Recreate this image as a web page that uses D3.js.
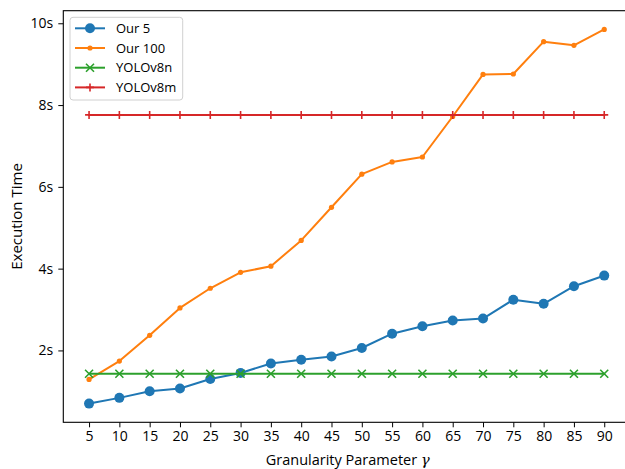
<!DOCTYPE html>
<html>
<head>
<meta charset="utf-8">
<script src="https://cdn.jsdelivr.net/npm/d3@7"></script>
<style>
  html, body { margin: 0; padding: 0; background: #fff; }
  svg { display: block; }
  text { font-family: "Open Sans", "DejaVu Sans", sans-serif; fill: #000; }
</style>
</head>
<body>
<svg id="chart" width="625" height="469"></svg>
<script>
// Granularity parameter values (x axis)
const gammas = [5, 10, 15, 20, 25, 30, 35, 40, 45, 50, 55, 60, 65, 70, 75, 80, 85, 90];

// Execution times in seconds
const our5 = [0.70, 0.84, 1.00, 1.07, 1.30, 1.45, 1.68, 1.77, 1.85, 2.06, 2.41, 2.59, 2.73, 2.78, 3.24, 3.14, 3.57, 3.83];
const our100 = [1.29, 1.74, 2.37, 3.04, 3.52, 3.91, 4.06, 4.69, 5.50, 6.31, 6.61, 6.73, 7.72, 8.75, 8.76, 9.55, 9.46, 9.85];
const yolov8n = [1.43, 1.43, 1.43, 1.43, 1.43, 1.43, 1.43, 1.43, 1.43, 1.43, 1.43, 1.43, 1.43, 1.43, 1.43, 1.43, 1.43, 1.43];
const yolov8m = [7.76, 7.76, 7.76, 7.76, 7.76, 7.76, 7.76, 7.76, 7.76, 7.76, 7.76, 7.76, 7.76, 7.76, 7.76, 7.76, 7.76, 7.76];

const seriesNames = ["Our 5", "Our 100", "YOLOv8n", "YOLOv8m"];
const yTicks = [2, 4, 6, 8, 10];
const yTickLabels = ["2s", "4s", "6s", "8s", "10s"];

const series = [
  { name: seriesNames[0], values: our5, color: "#1f77b4", marker: "circle", size: 5 },
  { name: seriesNames[1], values: our100, color: "#ff7f0e", marker: "dot", size: 2.6 },
  { name: seriesNames[2], values: yolov8n, color: "#2ca02c", marker: "x", size: 4 },
  { name: seriesNames[3], values: yolov8m, color: "#d62728", marker: "plus", size: 4 }
];

const FONT = "'Open Sans', 'DejaVu Sans', sans-serif";
const svg = d3.select("#chart");
const plot = { left: 63.3, right: 630, top: 10.7, bottom: 422.3 };

// Axis limits with a 5% margin around the data
const xMin = d3.min(gammas), xMax = d3.max(gammas);
const xPad = (xMax - xMin) * 0.05;
const allY = series.flatMap(s => s.values);
const yMin = d3.min(allY), yMax = d3.max(allY);
const yPad = (yMax - yMin) * 0.05;

const x = d3.scaleLinear().domain([xMin - xPad, xMax + xPad]).range([plot.left, plot.right]);
const y = d3.scaleLinear().domain([yMin - yPad, yMax + yPad]).range([plot.bottom, plot.top]);

// Axes
const xAxis = d3.axisBottom(x).tickValues(gammas).tickFormat(d3.format("d")).tickSize(5).tickPadding(4);
const yAxis = d3.axisLeft(y).tickValues(yTicks).tickFormat((d, i) => yTickLabels[i]).tickSize(5).tickPadding(5);

const gx = svg.append("g").attr("transform", `translate(0,${plot.bottom})`).call(xAxis);
const gy = svg.append("g").attr("transform", `translate(${plot.left},0)`).call(yAxis);
[gx, gy].forEach(g => {
  g.select(".domain").remove();
  g.selectAll(".tick line").attr("stroke", "#000").attr("stroke-width", 1);
  g.selectAll(".tick text").attr("font-size", 14).attr("font-family", FONT).attr("fill", "#000");
});

// Frame
svg.append("rect")
  .attr("x", plot.left).attr("y", plot.top)
  .attr("width", plot.right - plot.left).attr("height", plot.bottom - plot.top)
  .attr("fill", "none").attr("stroke", "#000").attr("stroke-width", 1.1);

// Axis titles
const xt = svg.append("text")
  .attr("x", (plot.left + plot.right) / 2 + 1).attr("y", 465)
  .attr("text-anchor", "middle").attr("font-size", 14.5);
xt.append("tspan").text("Granularity Parameter ");
xt.append("tspan").attr("font-family", "'DejaVu Serif', serif").attr("font-style", "italic").text("γ");

svg.append("text")
  .attr("transform", `translate(22,${(plot.top + plot.bottom) / 2}) rotate(-90)`)
  .attr("text-anchor", "middle").attr("font-size", 15)
  .text("Execution Time");

// Marker drawing
function drawMarker(g, s, cx, cy) {
  const r = s.size;
  if (s.marker === "circle" || s.marker === "dot") {
    g.append("circle").attr("cx", cx).attr("cy", cy).attr("r", r).attr("fill", s.color);
  } else if (s.marker === "x") {
    g.append("path")
      .attr("d", `M${cx - r},${cy - r}L${cx + r},${cy + r}M${cx - r},${cy + r}L${cx + r},${cy - r}`)
      .attr("stroke", s.color).attr("stroke-width", 1.6).attr("fill", "none");
  } else if (s.marker === "plus") {
    g.append("path")
      .attr("d", `M${cx - r},${cy}L${cx + r},${cy}M${cx},${cy - r}L${cx},${cy + r}`)
      .attr("stroke", s.color).attr("stroke-width", 1.6).attr("fill", "none");
  }
}

const line = d3.line().x(d => x(d[0])).y(d => y(d[1]));
svg.append("clipPath").attr("id", "plotclip").append("rect")
  .attr("x", plot.left).attr("y", plot.top)
  .attr("width", plot.right - plot.left).attr("height", plot.bottom - plot.top);

const marks = svg.append("g").attr("clip-path", "url(#plotclip)");
series.forEach(s => {
  const pts = gammas.map((g, i) => [g, s.values[i]]);
  const g = marks.append("g");
  g.append("path").datum(pts).attr("d", line)
    .attr("fill", "none").attr("stroke", s.color).attr("stroke-width", 2)
    .attr("stroke-linejoin", "round").attr("stroke-linecap", "square");
  pts.forEach(p => drawMarker(g, s, x(p[0]), y(p[1])));
});

// Legend
const legend = svg.append("g");
legend.append("rect")
  .attr("x", 70).attr("y", 17.3).attr("width", 112.7).attr("height", 82.7)
  .attr("rx", 3).attr("fill", "#fff").attr("fill-opacity", 0.8)
  .attr("stroke", "#d0d0d0").attr("stroke-width", 1);
series.forEach((s, i) => {
  const cy = 28.3 + i * 19.7;
  const g = legend.append("g");
  g.append("line").attr("x1", 75).attr("x2", 105).attr("y1", cy).attr("y2", cy)
    .attr("stroke", s.color).attr("stroke-width", 2);
  drawMarker(g, s, 90, cy);
  g.append("text").attr("x", 116).attr("y", cy).attr("dy", "0.35em")
    .attr("font-size", 13).text(s.name);
});
</script>
</body>
</html>
